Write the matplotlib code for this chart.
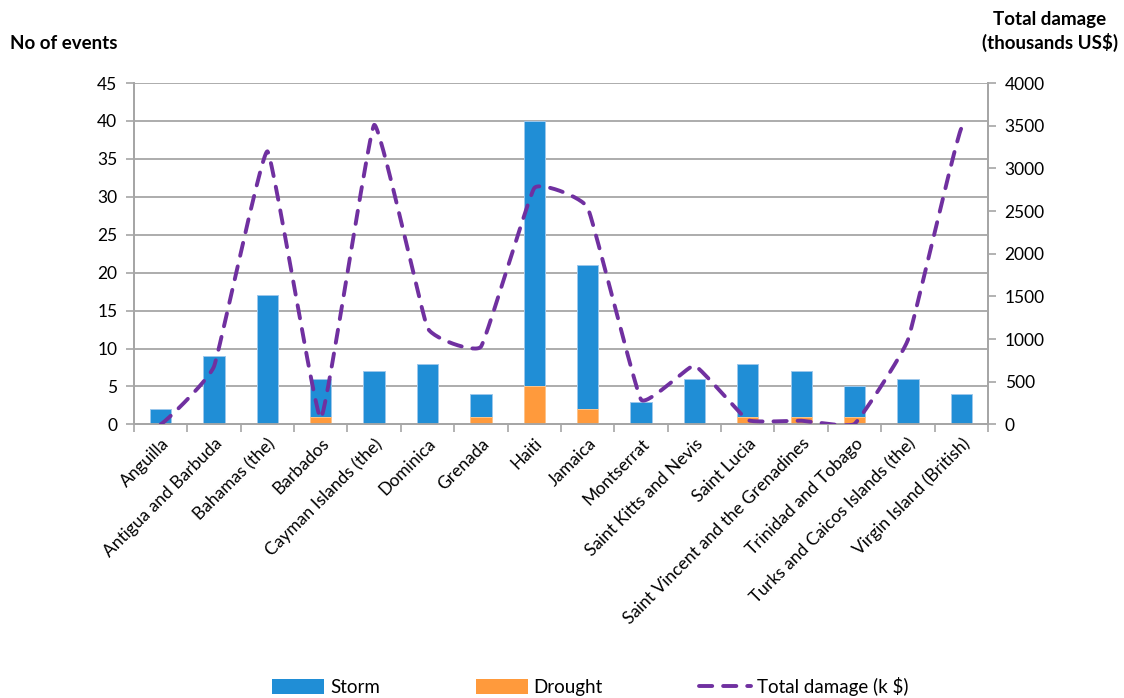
import numpy as np
import matplotlib
matplotlib.use("Agg")
import matplotlib.pyplot as plt
from matplotlib.lines import Line2D
from matplotlib.patches import Patch

plt.rcParams['font.family'] = ['Lato', 'DejaVu Sans']

countries = [
    "Anguilla", "Antigua and Barbuda", "Bahamas (the)", "Barbados",
    "Cayman Islands (the)", "Dominica", "Grenada", "Haiti", "Jamaica",
    "Montserrat", "Saint Kitts and Nevis", "Saint Lucia",
    "Saint Vincent and the Grenadines", "Trinidad and Tobago",
    "Turks and Caicos Islands (the)", "Virgin Island (British)",
]
# bar heights as drawn (drought bar overlaps the storm bar)
storm = [2, 9, 17, 6, 7, 8, 4, 40, 21, 3, 6, 8, 7, 5, 6, 4]
drought = [0, 0, 0, 1, 0, 0, 1, 5, 2, 0, 0, 1, 1, 1, 0, 0]
damage = [0, 680, 3200, 70, 3510, 1130, 910, 2770, 2540, 290, 690, 50, 43, 5, 990, 3470]

BLUE = '#208ED6'
ORANGE = '#FF9A3C'
PURPLE = '#7030A0'
GRID = '#A6A6A6'
DASH = (0, (3.4, 2.8))


def smooth_line(x, y, k=0.3, n=30):
    """Hermite smoothing with damped tangents, close to Excel's smoothed line."""
    x = np.asarray(x, float)
    y = np.asarray(y, float)
    px = np.concatenate([[2 * x[0] - x[1]], x, [2 * x[-1] - x[-2]]])
    py = np.concatenate([[y[0]], y, [y[-1]]])
    xs, ys = [], []
    t = np.linspace(0, 1, n)
    h00 = 2 * t**3 - 3 * t**2 + 1
    h10 = t**3 - 2 * t**2 + t
    h01 = -2 * t**3 + 3 * t**2
    h11 = t**3 - t**2
    for i in range(1, len(px) - 2):
        for p, out in ((px, xs), (py, ys)):
            p0, p1, p2, p3 = p[i - 1], p[i], p[i + 1], p[i + 2]
            m1 = k * (p2 - p0) / 2
            m2 = k * (p3 - p1) / 2
            out.extend(h00 * p1 + h10 * m1 + h01 * p2 + h11 * m2)
    return np.array(xs), np.array(ys)


fig = plt.figure(figsize=(11.24, 6.98), dpi=100)
ax = fig.add_axes([0.1192, 0.392, 0.7598, 0.489])
ax2 = ax.twinx()

x = np.arange(len(countries))
ax.bar(x, storm, width=0.4, color=BLUE, edgecolor='#9CC8EC', linewidth=0.7, zorder=3)
ax.bar(x, drought, width=0.4, color=ORANGE, edgecolor='#FFC48A', linewidth=0.7, zorder=4)

ax.set_xlim(-0.5, len(countries) - 0.5)
ax.set_ylim(0, 45)
ax.set_yticks(np.arange(0, 46, 5))
ax.yaxis.grid(True, color=GRID, linewidth=1.3, zorder=0)
ax.set_axisbelow(True)

ax.set_xticks(x)
ax.set_xticklabels(countries, rotation=45, ha='right', rotation_mode='anchor', fontsize=12.5)
ax.tick_params(axis='x', which='major', length=0, pad=8)
ax.set_xticks(np.arange(-0.5, len(countries), 1), minor=True)
ax.tick_params(axis='x', which='minor', length=6, color=GRID, width=1.2)
ax.tick_params(axis='y', length=6, color=GRID, width=1.2, labelsize=12.5, pad=6)

sx, sy = smooth_line(x, damage)
ax2.plot(sx, sy, color=PURPLE, linewidth=2.8, linestyle=DASH,
         dash_capstyle='round', zorder=5)
ax2.set_ylim(0, 4000)
ax2.set_yticks(np.arange(0, 4001, 500))
ax2.tick_params(axis='y', length=6, color=GRID, width=1.2, labelsize=12.5, pad=6)

for a in (ax, ax2):
    a.spines['top'].set_visible(False)
    for s in ('left', 'right', 'bottom'):
        a.spines[s].set_color(GRID)
        a.spines[s].set_linewidth(1.3)
ax.set_zorder(ax2.get_zorder() - 1)
ax.patch.set_visible(False)

fig.text(0.009, 0.937, "No of events", fontsize=13.5, fontweight='bold', ha='left', va='center')
fig.text(0.934, 0.955, "Total damage\n(thousands US$)", fontsize=13.5, fontweight='bold',
         ha='center', va='center', linespacing=1.35)

handles = [
    Patch(facecolor=BLUE, edgecolor='none'),
    Patch(facecolor=ORANGE, edgecolor='none'),
    Line2D([0], [0], color=PURPLE, linewidth=2.8, linestyle=DASH, dash_capstyle='round'),
]
fig.legend(handles, ["Storm", "Drought", "Total damage (k $)"], loc='center',
           bbox_to_anchor=(0.525, 0.017), ncol=3, frameon=False, fontsize=13.5,
           handlelength=2.8, handleheight=0.85, columnspacing=5.1, handletextpad=0.3)

fig.savefig("out.png", dpi=100)
